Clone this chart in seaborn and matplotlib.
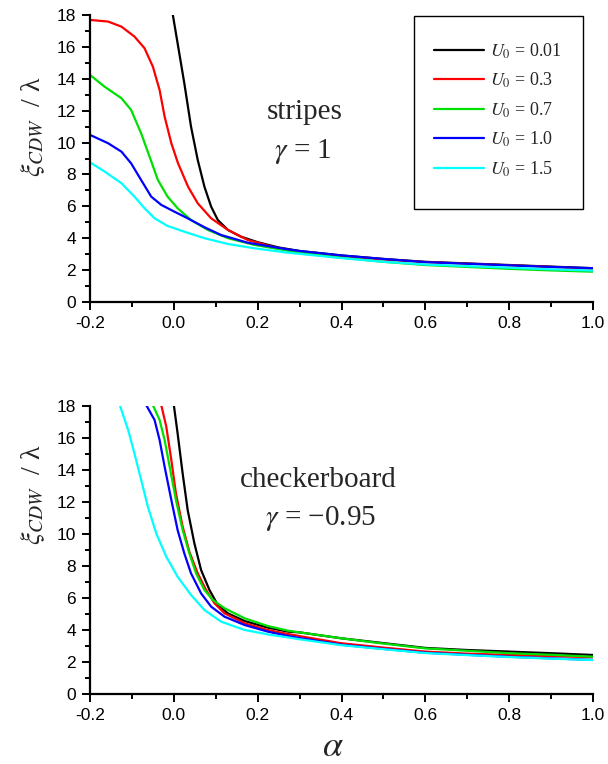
import numpy as np
import pandas as pd
import matplotlib
matplotlib.use("Agg")
import matplotlib.pyplot as plt
from matplotlib.patches import Rectangle
import seaborn as sns
from matplotlib.ticker import MultipleLocator

sns.set_theme(style="ticks")
plt.rcParams["font.family"] = ["Liberation Sans", "DejaVu Sans"]
plt.rcParams["mathtext.fontset"] = "stix"
plt.rcParams["axes.unicode_minus"] = False

u0_labels = ["0.01", "0.3", "0.7", "1.0", "1.5"]
colors = ["#000000", "#ff0000", "#00e000", "#0000ff", "#00ffff"]

# ---- top panel: stripes, gamma = 1 ----
top_a_001 = [-0.003, 0.009, 0.025, 0.041, 0.057, 0.073, 0.089, 0.105, 0.129, 0.16,
             0.2, 0.25, 0.3, 0.4, 0.5, 0.6, 0.7, 0.8, 0.9, 1.0]
top_v_001 = [18.1, 16.23, 13.72, 11.0, 8.91, 7.23, 5.98, 5.14, 4.52, 4.1,
             3.75, 3.42, 3.2, 2.92, 2.7, 2.52, 2.42, 2.32, 2.22, 2.12]
top_a_03 = [-0.2, -0.157, -0.125, -0.094, -0.07, -0.05, -0.034, -0.022, -0.006, 0.01,
            0.034, 0.057, 0.089, 0.129, 0.176, 0.24, 0.3, 0.4, 0.5, 0.6, 0.7, 0.8, 0.9, 1.0]
top_v_03 = [17.69, 17.59, 17.27, 16.65, 15.92, 14.76, 13.3, 11.63, 9.96, 8.7,
            7.23, 6.19, 5.25, 4.52, 3.89, 3.43, 3.15, 2.88, 2.67, 2.5, 2.4, 2.3, 2.2, 2.08]
top_a_07 = [-0.2, -0.165, -0.125, -0.102, -0.078, -0.058, -0.038, -0.015, 0.009, 0.041,
            0.081, 0.129, 0.192, 0.272, 0.3, 0.4, 0.5, 0.6, 0.7, 0.8, 0.9, 1.0]
top_v_07 = [14.24, 13.5, 12.78, 12.05, 10.58, 9.12, 7.65, 6.61, 5.88, 5.14,
            4.52, 4.0, 3.58, 3.22, 3.1, 2.78, 2.52, 2.32, 2.2, 2.08, 1.98, 1.9]
top_a_10 = [-0.2, -0.157, -0.125, -0.102, -0.078, -0.054, -0.03, 0.001, 0.033, 0.073,
            0.113, 0.176, 0.272, 0.3, 0.4, 0.5, 0.6, 0.7, 0.8, 0.9, 1.0]
top_v_10 = [10.48, 9.96, 9.43, 8.7, 7.65, 6.61, 6.09, 5.67, 5.25, 4.69,
            4.2, 3.72, 3.3, 3.2, 2.92, 2.7, 2.5, 2.4, 2.3, 2.2, 2.12]
top_a_15 = [-0.2, -0.165, -0.125, -0.094, -0.07, -0.046, -0.015, 0.025, 0.073, 0.129,
            0.192, 0.272, 0.3, 0.4, 0.5, 0.6, 0.7, 0.8, 0.9, 1.0]
top_v_15 = [8.76, 8.18, 7.45, 6.61, 5.88, 5.25, 4.77, 4.41, 4.0, 3.64,
            3.37, 3.09, 3.02, 2.75, 2.52, 2.35, 2.25, 2.15, 2.05, 1.97]

# ---- bottom panel: checkerboard, gamma = -0.95 ----
bot_a_001 = [0.0, 0.009, 0.021, 0.033, 0.049, 0.065, 0.085, 0.105, 0.129, 0.169,
             0.224, 0.272, 0.3, 0.4, 0.5, 0.6, 0.7, 0.8, 0.9, 1.0]
bot_v_001 = [18.06, 16.29, 13.79, 11.5, 9.42, 7.75, 6.5, 5.56, 5.04, 4.56,
             4.15, 3.9, 3.85, 3.48, 3.18, 2.88, 2.75, 2.65, 2.55, 2.44]
bot_a_03 = [-0.03, -0.018, -0.006, 0.005, 0.021, 0.037, 0.057, 0.077, 0.097, 0.121,
            0.169, 0.224, 0.272, 0.3, 0.4, 0.5, 0.6, 0.7, 0.8, 0.9, 1.0]
bot_v_03 = [18.06, 16.71, 14.63, 12.54, 10.46, 8.9, 7.54, 6.5, 5.67, 5.04,
            4.42, 4.0, 3.75, 3.62, 3.17, 2.9, 2.65, 2.52, 2.44, 2.37, 2.3]
bot_a_07 = [-0.05, -0.034, -0.022, -0.01, 0.005, 0.021, 0.037, 0.053, 0.073, 0.093,
            0.121, 0.169, 0.224, 0.272, 0.3, 0.4, 0.5, 0.6, 0.7, 0.8, 0.9, 1.0]
bot_v_07 = [18.06, 17.13, 15.88, 14.21, 12.13, 10.25, 8.79, 7.54, 6.5, 5.88,
            5.36, 4.73, 4.25, 3.96, 3.85, 3.48, 3.15, 2.85, 2.7, 2.55, 2.45, 2.33]
bot_a_10 = [-0.066, -0.046, -0.034, -0.022, -0.006, 0.009, 0.025, 0.041, 0.065, 0.089,
            0.121, 0.169, 0.224, 0.272, 0.3, 0.4, 0.5, 0.6, 0.7, 0.8, 0.9, 1.0]
bot_v_10 = [18.06, 17.13, 15.88, 14.21, 12.13, 10.25, 8.79, 7.54, 6.29, 5.46,
            4.83, 4.31, 3.9, 3.63, 3.5, 3.08, 2.82, 2.58, 2.45, 2.33, 2.23, 2.13]
bot_a_15 = [-0.129, -0.109, -0.094, -0.078, -0.062, -0.042, -0.018, 0.009, 0.041, 0.073,
            0.113, 0.169, 0.232, 0.272, 0.3, 0.4, 0.5, 0.6, 0.7, 0.8, 0.9, 1.0]
bot_v_15 = [18.06, 16.5, 15.04, 13.38, 11.71, 10.04, 8.58, 7.33, 6.19, 5.25,
            4.52, 4.0, 3.69, 3.54, 3.42, 3.05, 2.8, 2.56, 2.43, 2.31, 2.21, 2.12]


def long_df(pairs):
    rows = []
    for lab, (xs, ys) in zip(u0_labels, pairs):
        for a, v in zip(xs, ys):
            rows.append({"alpha": a, "xi": v, "U0": lab})
    return pd.DataFrame(rows)


df_top = long_df([(top_a_001, top_v_001), (top_a_03, top_v_03), (top_a_07, top_v_07),
                  (top_a_10, top_v_10), (top_a_15, top_v_15)])
df_bot = long_df([(bot_a_001, bot_v_001), (bot_a_03, bot_v_03), (bot_a_07, bot_v_07),
                  (bot_a_10, bot_v_10), (bot_a_15, bot_v_15)])

fig = plt.figure(figsize=(6.08, 7.64), dpi=100)
ax1 = fig.add_axes([90 / 608, 1 - 302 / 764, 503 / 608, 287 / 764])
ax2 = fig.add_axes([90 / 608, 1 - 694 / 764, 503 / 608, 288 / 764])

serif = ["Liberation Serif", "DejaVu Serif"]
pal = dict(zip(u0_labels, colors))
xt = np.round(np.arange(-0.2, 1.01, 0.2), 1)
for ax, df in ((ax1, df_top), (ax2, df_bot)):
    sns.lineplot(data=df, x="alpha", y="xi", hue="U0", hue_order=u0_labels,
                 palette=pal, estimator=None, sort=False, linewidth=1.6,
                 legend=False, ax=ax)
    ax.set_xlim(-0.2, 1.0)
    ax.set_ylim(0, 18)
    ax.set_xticks(xt)
    ax.set_xticklabels([f"{v:.1f}" for v in xt])
    ax.xaxis.set_minor_locator(MultipleLocator(0.1))
    ax.yaxis.set_major_locator(MultipleLocator(2))
    ax.yaxis.set_minor_locator(MultipleLocator(1))
    ax.tick_params(which="major", direction="out", length=6, width=1.4,
                   labelsize=12.5, pad=4, color="black", labelcolor="black")
    ax.tick_params(which="minor", direction="out", length=3.5, width=1.4, color="black")
    for s in ("top", "right"):
        ax.spines[s].set_visible(False)
    for s in ("left", "bottom"):
        ax.spines[s].set_linewidth(1.6)
        ax.spines[s].set_color("black")
    ax.set_xlabel("")
    ax.set_ylabel(r"$\xi_{CDW}$  / λ", fontsize=20, family=serif)
    ax.set_facecolor("white")

ax1.yaxis.set_label_coords(-0.085, 0.61)
ax2.yaxis.set_label_coords(-0.085, 0.694)

# legend: framed box with entries
ax1.add_patch(Rectangle((0.644, 0.324), 0.336, 0.673, transform=ax1.transAxes,
                        fill=False, edgecolor="black", linewidth=1.0, clip_on=False))
handles = ax1.get_lines()[:5]
leg = ax1.legend(handles, [rf"$U_0$ = {l}" for l in u0_labels],
                 loc="upper left", bbox_to_anchor=(0.684, 0.909),
                 frameon=False, handlelength=2.77, handletextpad=0.33,
                 labelspacing=0.56, borderpad=0, borderaxespad=0,
                 prop={"family": "Liberation Serif", "size": 13})

ax1.text(0.427, 0.638, "stripes", transform=ax1.transAxes, ha="center", va="baseline",
         fontsize=21, family=serif)
ax1.text(0.424, 0.502, r"$\gamma$ = 1", transform=ax1.transAxes, ha="center", va="baseline",
         fontsize=21, family=serif)
ax2.text(0.454, 0.718, "checkerboard", transform=ax2.transAxes, ha="center", va="baseline",
         fontsize=21, family=serif)
ax2.text(0.458, 0.587, r"$\gamma$ = −0.95", transform=ax2.transAxes, ha="center",
         va="baseline", fontsize=21, family=serif)

ax2.set_xlabel(r"$\alpha$", fontsize=26)
ax2.xaxis.set_label_coords(0.483, -0.122)

fig.savefig("out.png", dpi=100, facecolor="white")
